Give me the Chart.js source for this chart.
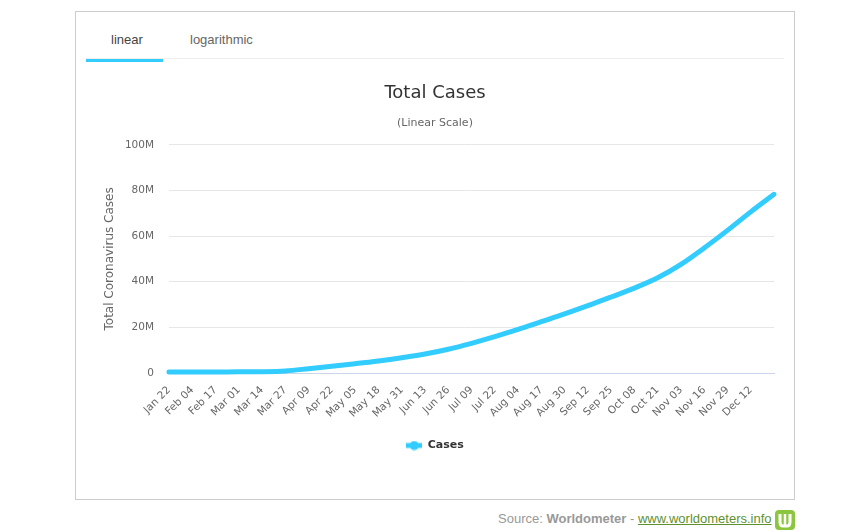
<!DOCTYPE html>
<html>
<head>
<meta charset="utf-8">
<script src="https://cdn.jsdelivr.net/npm/chart.js@4"></script>
<style>
html,body{margin:0;padding:0;background:#fff;width:867px;height:532px;overflow:hidden}
#panel{position:absolute;left:75px;top:11px;width:718px;height:487px;border:1px solid #ccc}
#rule{position:absolute;left:86px;top:58px;width:698px;height:1px;background:#eee}
#active{position:absolute;left:86px;top:59px;width:77px;height:3px;background:#33ccff}
.tab{position:absolute;top:32px;font:13px "Liberation Sans",Arial,sans-serif;line-height:16px}
#t1{left:111px;color:#444}
#t2{left:190px;color:#666}
#source{position:absolute;left:498px;top:511px;font:13px "Liberation Sans",Arial,sans-serif;line-height:15px;color:#999;white-space:nowrap}
#source a{color:#5f9130;text-decoration:underline}
#logo{position:absolute;left:775px;top:510px}
canvas#c{position:absolute;left:76px;top:60px}
</style>
</head>
<body>
<div id="panel"></div>
<div id="rule"></div>
<div id="active"></div>
<div class="tab" id="t1">linear</div>
<div class="tab" id="t2">logarithmic</div>
<canvas id="c" width="718" height="438"></canvas>
<div id="source">Source: <b>Worldometer</b> - <a>www.worldometers.info</a></div>
<svg id="logo" width="20" height="20" viewBox="0 0 20 20"><rect width="20" height="20" rx="4" fill="#8cc63f"/><path d="M5 4v8q0 4 3 4h4q3 0 3-4V4" fill="none" stroke="#fff" stroke-width="3"/><path d="M10 4v11" stroke="#fff" stroke-width="2.5"/></svg>
<script>
const categories = ["Jan 22","Feb 04","Feb 17","Mar 01","Mar 14","Mar 27","Apr 09","Apr 22","May 05","May 18","May 31","Jun 13","Jun 26","Jul 09","Jul 22","Aug 04","Aug 17","Aug 30","Sep 12","Sep 25","Oct 08","Oct 21","Nov 03","Nov 16","Nov 29","Dec 12",""];
const cases = [0.4,0.4,0.45,0.5,0.55,0.9,1.9,3.0,4.1,5.3,6.7,8.3,10.4,13,15.9,19.1,22.5,25.9,29.5,33.3,37.2,41.7,47.6,54.8,62.5,70.6,78.3];
const yTicks = [0,20,40,60,80,100];
const FONT = '"DejaVu Sans",sans-serif';
const BLUE = '#33ccff';
const mark = document.createElement('canvas');
mark.width = 16; mark.height = 10;
const m = mark.getContext('2d');
m.strokeStyle = BLUE; m.fillStyle = BLUE; m.lineWidth = 5;
m.beginPath(); m.moveTo(0,5); m.lineTo(16,5); m.stroke();
m.beginPath(); m.arc(8,5,4.5,0,Math.PI*2); m.fill();
new Chart(document.getElementById('c'), {
  type: 'line',
  data: { labels: categories, datasets: [{ label: 'Cases', data: cases, borderColor: BLUE, backgroundColor: BLUE, borderWidth: 5, borderCapStyle: 'round', pointRadius: 0, tension: 0.35, clip: false, pointStyle: mark }] },
  options: {
    responsive: false, animation: false, devicePixelRatio: 1,
    layout: { padding: { left: 20, right: 20, top: 0, bottom: 37 } },
    plugins: {
      tooltip: { enabled: false },
      title: { display: true, text: 'Total Cases', color: '#333', font: { family: FONT, size: 18, weight: 'normal' }, padding: { top: 23, bottom: 12 } },
      subtitle: { display: true, text: '(Linear Scale)', color: '#666', font: { family: FONT, size: 11, weight: 'normal' }, padding: { bottom: 15 } },
      legend: { position: 'bottom', labels: { usePointStyle: true, pointStyleWidth: 16, color: '#333', font: { family: FONT, size: 11, weight: 'bold' }, padding: 0, boxHeight: 10 } }
    },
    scales: {
      x: {
        type: 'category', offset: false,
        grid: { display: false, drawTicks: false },
        border: { color: '#ccd6eb', width: 1 },
        afterFit(s){ s.height = 67; },
        ticks: { autoSkip: false, minRotation: 45, maxRotation: 45, color: '#666', padding: 11, font: { family: FONT, size: 10.5 } }
      },
      y: {
        min: 0, max: 100,
        afterFit(s){ s.width = 73; },
        afterBuildTicks(s){ s.ticks = yTicks.map(v => ({ value: v })); },
        grid: { color: '#e6e6e6', drawTicks: false },
        border: { display: false },
        title: { display: true, text: 'Total Coronavirus Cases', color: '#666', font: { family: FONT, size: 12 }, padding: { top: 7, bottom: 0 } },
        ticks: { color: '#666', padding: 15, font: { family: FONT, size: 10.5 }, callback: v => v === 0 ? '0' : v + 'M' }
      }
    }
  }
});
</script>
</body>
</html>
